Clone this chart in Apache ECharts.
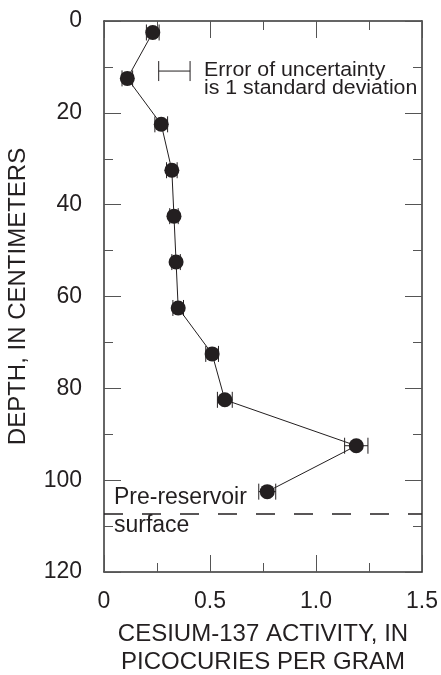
<!DOCTYPE html>
<html>
<head>
<meta charset="utf-8">
<script src="https://cdn.jsdelivr.net/npm/echarts@6/dist/echarts.min.js"></script>
<style>
  html, body { margin: 0; padding: 0; background: #fff; }
  #chart { width: 441px; height: 675px; }
</style>
</head>
<body>
<div id="chart"></div>
<script>
// Sample depth (centimeters) and cesium-137 activity (pCi/g)
var depths = [2.5, 12.5, 22.5, 32.5, 42.5, 52.5, 62.5, 72.5, 82.5, 92.5, 102.5];
var activity = [0.23, 0.11, 0.27, 0.32, 0.33, 0.34, 0.35, 0.51, 0.57, 1.19, 0.77];
var uncertainty = [0.03, 0.025, 0.03, 0.025, 0.02, 0.02, 0.025, 0.03, 0.035, 0.055, 0.04];

// Key showing a one-standard-deviation bar
var keyBar = { value: 0.332, halfWidth: 0.074, depth: 10.9 };
var keyText = ['Error of uncertainty', 'is 1 standard deviation'];

// Depth of the pre-reservoir land surface
var surfaceDepth = 107.3;
var surfaceText = ['Pre-reservoir', 'surface'];

var xTicks = [0, 0.5, 1.0, 1.5];
var yTicks = [0, 20, 40, 60, 80, 100, 120];

var ink = '#231f20';
var font = 'Liberation Sans, Arial, Helvetica, sans-serif';

var points = depths.map(function (d, i) { return [activity[i], d]; });
var bars = depths.map(function (d, i) { return [activity[i], d, uncertainty[i], 16]; });
bars.push([keyBar.value, keyBar.depth, keyBar.halfWidth, 20]);

function renderErrorBar(params, api) {
  var x = api.value(0), y = api.value(1), e = api.value(2), cap = api.value(3);
  var p0 = api.coord([x - e, y]);
  var p1 = api.coord([x + e, y]);
  var style = { stroke: ink, lineWidth: 1 };
  return {
    type: 'group',
    children: [
      { type: 'line', shape: { x1: p0[0], y1: p0[1], x2: p1[0], y2: p1[1] }, style: style },
      { type: 'line', shape: { x1: p0[0], y1: p0[1] - cap / 2, x2: p0[0], y2: p0[1] + cap / 2 }, style: style },
      { type: 'line', shape: { x1: p1[0], y1: p1[1] - cap / 2, x2: p1[0], y2: p1[1] + cap / 2 }, style: style }
    ]
  };
}

var axisLine = { show: true, onZero: false, lineStyle: { color: '#333', width: 1.5 } };
var tickStyle = { color: '#555', width: 1 };

function xAxisDef(pos, showLabels) {
  return {
    type: 'value', position: pos, min: xTicks[0], max: xTicks[xTicks.length - 1],
    interval: xTicks[1] - xTicks[0],
    axisLine: axisLine,
    axisTick: { show: true, inside: true, length: 17, lineStyle: tickStyle },
    minorTick: { show: true, splitNumber: 2, length: 9, lineStyle: tickStyle },
    splitLine: { show: false },
    axisLabel: {
      show: showLabels, margin: 18, color: ink, fontFamily: font, fontSize: 23,
      formatter: function (v) { return v === 0 ? '0' : v.toFixed(1); }
    }
  };
}

function yAxisDef(pos, showLabels) {
  return {
    type: 'value', position: pos, inverse: true,
    min: yTicks[0], max: yTicks[yTicks.length - 1], interval: yTicks[1] - yTicks[0],
    axisLine: axisLine,
    axisTick: { show: true, inside: true, length: 17, lineStyle: tickStyle },
    minorTick: { show: true, splitNumber: 2, length: 9, lineStyle: tickStyle },
    splitLine: { show: false },
    axisLabel: { show: showLabels, margin: 22, color: ink, fontFamily: font, fontSize: 23 }
  };
}

var xBottom = xAxisDef('bottom', true);
xBottom.name = 'CESIUM-137 ACTIVITY, IN\nPICOCURIES PER GRAM';
xBottom.nameLocation = 'middle';
xBottom.nameGap = 48;
xBottom.nameTextStyle = { color: ink, fontFamily: font, fontSize: 24, lineHeight: 28 };

var yLeft = yAxisDef('left', true);
yLeft.name = 'DEPTH, IN CENTIMETERS';
yLeft.nameLocation = 'middle';
yLeft.nameGap = 74;
yLeft.nameTextStyle = { color: ink, fontFamily: font, fontSize: 24 };

var chart = echarts.init(document.getElementById('chart'), null, { renderer: 'canvas' });
chart.setOption({
  backgroundColor: '#fff',
  animation: false,
  grid: {
    left: 104, top: 21, right: 19, bottom: 103,
    containLabel: false, outerBoundsMode: 'none'
  },
  xAxis: [xBottom, xAxisDef('top', false)],
  yAxis: [yLeft, yAxisDef('right', false)],
  series: [
    {
      type: 'custom', renderItem: renderErrorBar, data: bars,
      xAxisIndex: 0, yAxisIndex: 0, z: 2, silent: true
    },
    {
      type: 'line', data: points, xAxisIndex: 0, yAxisIndex: 0, z: 3,
      symbol: 'circle', symbolSize: 15,
      itemStyle: { color: ink, borderWidth: 0 },
      lineStyle: { color: ink, width: 1 },
      markLine: {
        silent: true, symbol: 'none', label: { show: false },
        lineStyle: { color: ink, width: 1.5, type: [19, 19], dashOffset: 0 },
        data: [{ yAxis: surfaceDepth }]
      }
    }
  ]
});

// Annotation text placed from data coordinates
function textAt(lines, value, depth, lineStep, size, stretch) {
  var p = chart.convertToPixel({ xAxisIndex: 0, yAxisIndex: 0 }, [value, depth]);
  return lines.map(function (s, i) {
    return {
      type: 'text', x: p[0], y: p[1] + i * lineStep, scaleX: stretch, silent: true,
      style: { text: s, fill: ink, font: size + 'px ' + font, textAlign: 'left', textVerticalAlign: 'middle' }
    };
  });
}

chart.setOption({
  graphic: textAt(keyText, 0.4717, 10.75, 17.7, 20.5, 1.04)
    .concat(textAt(surfaceText, 0.047, 103.9, 28, 23, 1))
});
</script>
</body>
</html>
